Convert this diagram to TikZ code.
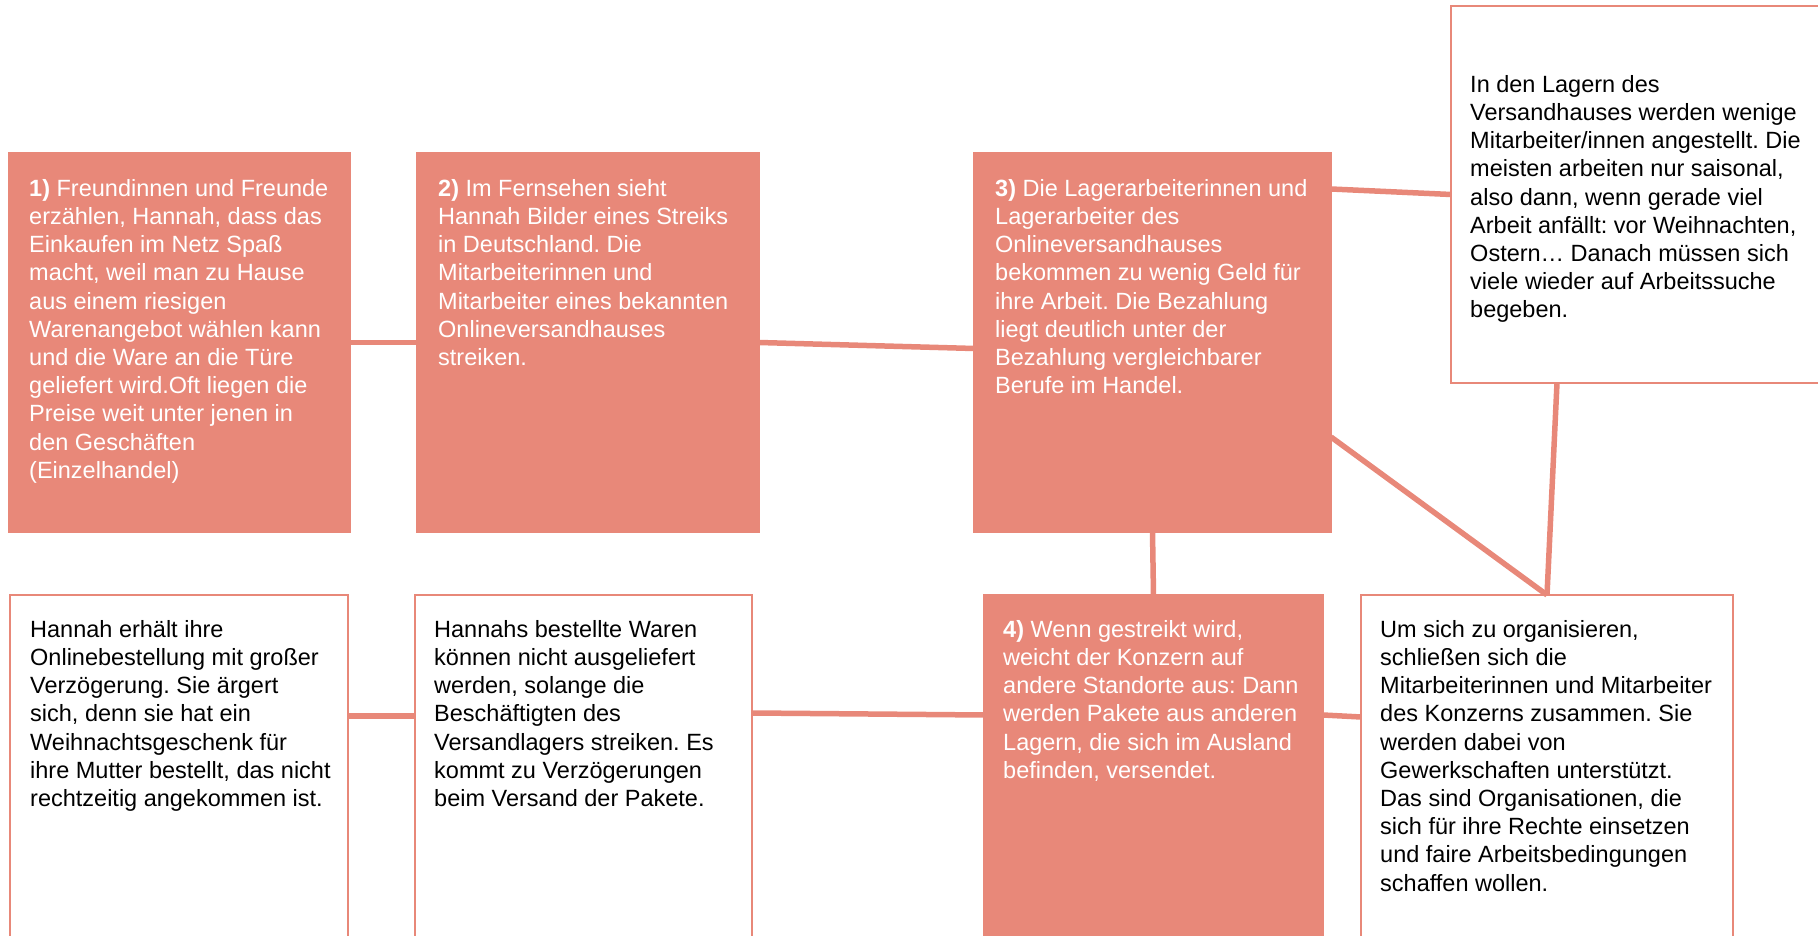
\documentclass[tikz,border=0pt]{standalone}
\usepackage{fontspec}
\setmainfont{Liberation Sans}
\usetikzlibrary{positioning}
\definecolor{salmon}{RGB}{232,136,121}
\frenchspacing

\begin{document}
\begin{tikzpicture}[
    x=1pt, y=1pt,
    box/.style={rectangle, draw=salmon, line width=2.5pt, anchor=north west, inner sep=0pt, outer sep=0pt},
    fullbox/.style={box, fill=salmon},
    txt/.style={align=left, inner sep=0pt, font=\fontsize{23.5pt}{28.2pt}\selectfont},
    link/.style={draw=salmon, line width=5.5pt}
]
    \clip (0,0) rectangle (1818,935);

    \node (friends) [fullbox, minimum width=341pt, minimum height=379pt] at (9,782) {};
    \node (tv) [fullbox, minimum width=342pt, minimum height=379pt] at (417,782) {};
    \node (wages) [fullbox, minimum width=357pt, minimum height=379pt] at (974,782) {};
    \node (seasonal) [box, fill=white, minimum width=400pt, minimum height=377pt] at (1451,929) {};
    \node (delay) [box, fill=white, minimum width=338pt, minimum height=360pt] at (10,340) {};
    \node (delivery) [box, fill=white, minimum width=337pt, minimum height=360pt] at (415,340) {};
    \node (relocate) [fullbox, minimum width=339pt, minimum height=360pt] at (984,340) {};
    \node (unions) [box, fill=white, minimum width=372pt, minimum height=360pt] at (1361,340) {};

    \node (friendstext) [txt, white, below right=26pt and 20pt of friends.north west] {\textbf{1)} Freundinnen und Freunde\\erzählen, Hannah, dass das\\Einkaufen im Netz Spaß\\macht, weil man zu Hause\\aus einem riesigen\\Warenangebot wählen kann\\und die Ware an die Türe\\geliefert wird.Oft liegen die\\Preise weit unter jenen in\\den Geschäften\\(Einzelhandel)};
    \node (tvtext) [txt, white, below right=26pt and 21pt of tv.north west] {\textbf{2)} Im Fernsehen sieht\\Hannah Bilder eines Streiks\\in Deutschland. Die\\Mitarbeiterinnen und\\Mitarbeiter eines bekannten\\Onlineversandhauses\\streiken.};
    \node (wagestext) [txt, white, below right=26pt and 21pt of wages.north west] {\textbf{3)} Die Lagerarbeiterinnen und\\Lagerarbeiter des\\Onlineversandhauses\\bekommen zu wenig Geld für\\ihre Arbeit. Die Bezahlung\\liegt deutlich unter der\\Bezahlung vergleichbarer\\Berufe im Handel.};
    \node (seasonaltext) [txt, below right=69pt and 19pt of seasonal.north west] {In den Lagern des\\Versandhauses werden wenige\\Mitarbeiter/innen angestellt. Die\\meisten arbeiten nur saisonal,\\also dann, wenn gerade viel\\Arbeit anfällt: vor Weihnachten,\\Ostern… Danach müssen sich\\viele wieder auf Arbeitssuche\\begeben.};
    \node (delaytext) [txt, below right=25pt and 20pt of delay.north west] {Hannah erhält ihre\\Onlinebestellung mit großer\\Verzögerung. Sie ärgert\\sich, denn sie hat ein\\Weihnachtsgeschenk für\\ihre Mutter bestellt, das nicht\\rechtzeitig angekommen ist.};
    \node (deliverytext) [txt, below right=25pt and 19pt of delivery.north west] {Hannahs bestellte Waren\\können nicht ausgeliefert\\werden, solange die\\Beschäftigten des\\Versandlagers streiken. Es\\kommt zu Verzögerungen\\beim Versand der Pakete.};
    \node (relocatetext) [txt, white, below right=25pt and 19pt of relocate.north west] {\textbf{4)} Wenn gestreikt wird,\\weicht der Konzern auf\\andere Standorte aus: Dann\\werden Pakete aus anderen\\Lagern, die sich im Ausland\\befinden, versendet.};
    \node (unionstext) [txt, below right=25pt and 19pt of unions.north west] {Um sich zu organisieren,\\schließen sich die\\Mitarbeiterinnen und Mitarbeiter\\des Konzerns zusammen. Sie\\werden dabei von\\Gewerkschaften unterstützt.\\Das sind Organisationen, die\\sich für ihre Rechte einsetzen\\und faire Arbeitsbedingungen\\schaffen wollen.};

    \draw[link] (friends) -- (tv);
    \draw[link] (tv.east) -- ([yshift=-6pt]wages.west);
    \draw[link] ([yshift=-36pt]wages.north east) -- (seasonal.west);
    \draw[link] ([yshift=95pt]wages.south east) -- (unions.north);
    \draw[link] ([xshift=106pt]seasonal.south west) -- (unions.north);
    \draw[link] (wages.south) -- (relocate.north);
    \draw[link, line width=6.5pt] ([yshift=-121pt]delay.north east) -- ([yshift=-121pt]delivery.north west);
    \draw[link] ([yshift=-118pt]delivery.north east) -- ([yshift=-120pt]relocate.north west);
    \draw[link] ([yshift=-120pt]relocate.north east) -- ([yshift=-122pt]unions.north west);
\end{tikzpicture}
\end{document}
